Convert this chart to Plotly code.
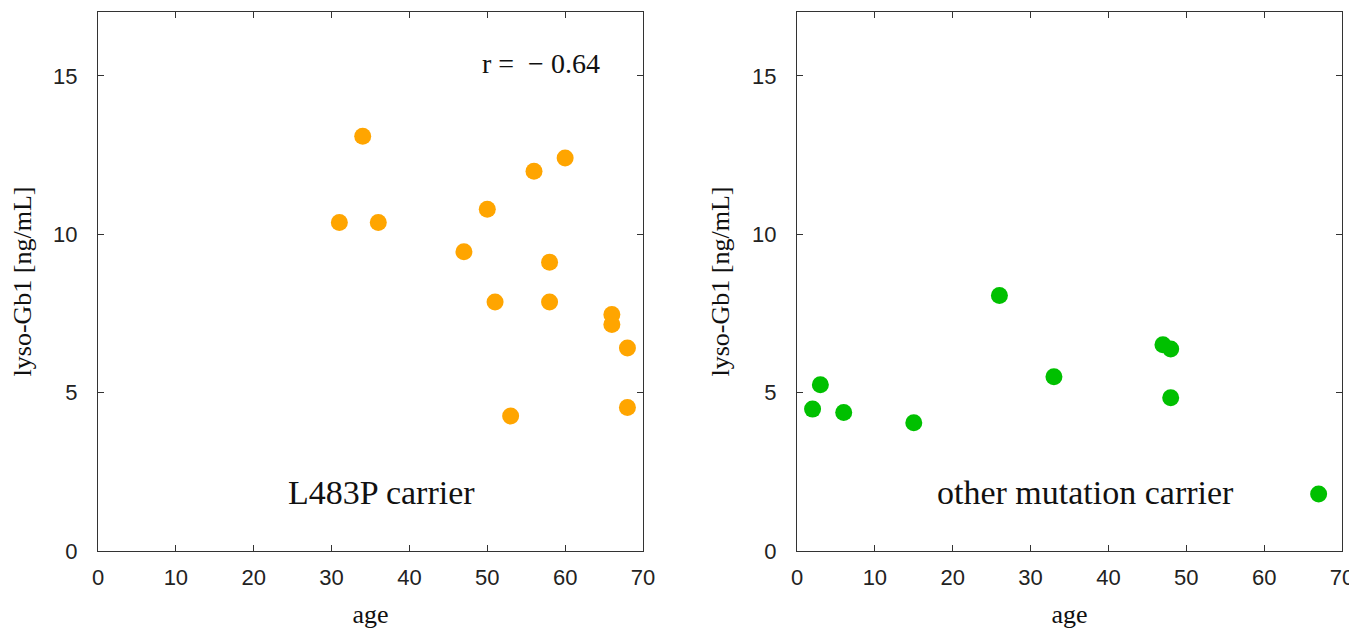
import plotly.graph_objects as go

# L483P carrier (left panel)
l483p_age = [31, 34, 36, 47, 50, 51, 53, 56, 58, 58, 60, 66, 66, 68, 68]
l483p_lyso = [10.37, 13.10, 10.37, 9.45, 10.79, 7.86, 4.26, 11.99, 9.12, 7.86, 12.41, 7.47, 7.15, 6.41, 4.53]

# other mutation carrier (right panel)
other_age = [2, 3, 6, 15, 26, 33, 47, 48, 48, 67]
other_lyso = [4.48, 5.25, 4.37, 4.05, 8.07, 5.50, 6.51, 6.38, 4.84, 1.80]

x_ticks = [0, 10, 20, 30, 40, 50, 60, 70]
y_ticks = [0, 5, 10, 15]

OFF = 8  # default page body margin
W, H = 1357 - OFF, 629 - OFF
fig = go.Figure()
fig.add_trace(go.Scatter(x=l483p_age, y=l483p_lyso, mode="markers",
                         marker=dict(color="#FFA500", size=17, line=dict(width=0)),
                         xaxis="x", yaxis="y", showlegend=False))
fig.add_trace(go.Scatter(x=other_age, y=other_lyso, mode="markers",
                         marker=dict(color="#00C000", size=17, line=dict(width=0)),
                         xaxis="x2", yaxis="y2", showlegend=False))

serif = "Liberation Serif, Times New Roman, serif"
tickfont = dict(family="Liberation Sans, Arial", size=22, color="#222")
titlefont = dict(family=serif, size=26, color="#111")
axis_common = dict(showgrid=False, zeroline=False, showline=True, linecolor="#333",
                   linewidth=1.3, mirror="ticks", ticks="inside", ticklen=6,
                   tickcolor="#333", tickfont=tickfont, automargin=False)
xax = dict(range=[0, 70], tickvals=x_ticks, ticklabelstandoff=6,
           title=dict(text="age", font=titlefont, standoff=19), **axis_common)
yax = dict(range=[0, 17.02], tickvals=y_ticks, ticklabelstandoff=15,
           title=dict(text="lyso-Gb1 [ng/mL]", font=titlefont, standoff=14), **axis_common)

y_dom = [1 - (551 - OFF) / H, 1 - (12 - OFF) / H]
fig.update_layout(
    width=W, height=H, margin=dict(l=0, r=0, t=0, b=0),
    plot_bgcolor="white", paper_bgcolor="white",
    xaxis=dict(domain=[(98 - OFF) / W, (643 - OFF) / W], anchor="y", **xax),
    yaxis=dict(domain=y_dom, anchor="x", **yax),
    xaxis2=dict(domain=[(797 - OFF) / W, (1342 - OFF) / W], anchor="y2", **xax),
    yaxis2=dict(domain=y_dom, anchor="x2", **yax),
    annotations=[
        dict(text="L483P carrier", x=36.4, y=1.85, xref="x", yref="y", showarrow=False,
             font=dict(family=serif, size=34, color="#111")),
        dict(text="r =  \u2212 0.64", x=56.9, y=15.4, xref="x", yref="y", showarrow=False,
             font=dict(family=serif, size=28, color="#111")),
        dict(text="other mutation carrier", x=37.0, y=1.85, xref="x2", yref="y2", showarrow=False,
             font=dict(family=serif, size=34, color="#111")),
    ],
)

fig.write_html("out.html")
